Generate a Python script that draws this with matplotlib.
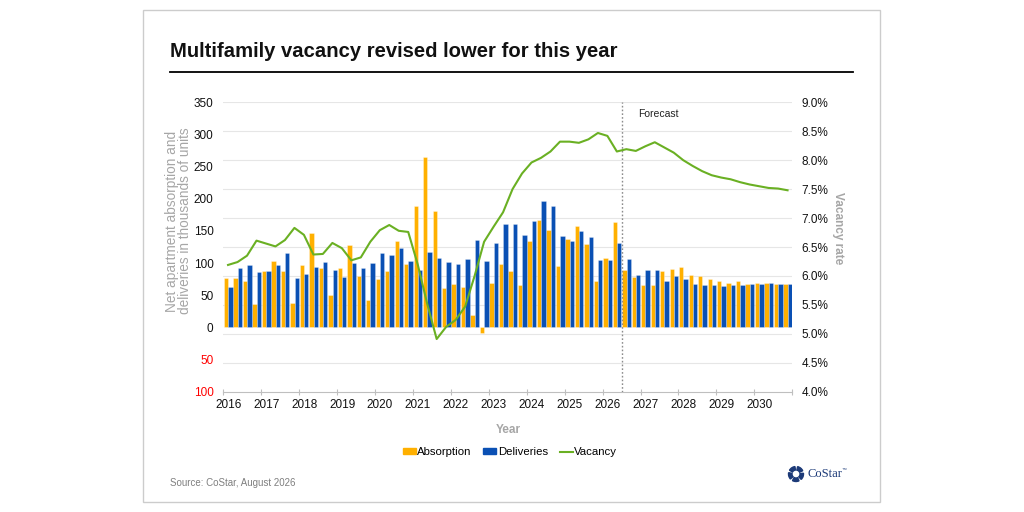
import matplotlib
matplotlib.use("Agg")
import matplotlib.pyplot as plt
import matplotlib.transforms as mtransforms
from matplotlib.patches import Rectangle, Wedge, Patch
from matplotlib.lines import Line2D
import numpy as np

plt.rcParams['font.family'] = ['Liberation Sans', 'DejaVu Sans']

# quarterly data, 2016Q1 .. 2030Q4 (thousands of units / %)
years = list(range(2016, 2031))
absorption = [
    76.6, 77, 71.5, 36.8,
    88, 103.6, 87.6, 37.3,
    97.4, 146.6, 92.2, 50.8,
    92.5, 128.4, 79.2, 42,
    75.6, 87.6, 134, 99,
    188, 265, 181, 62,
    66.8, 63.4, 19.5, -8,
    69, 99.2, 88, 65.8,
    134.6, 167, 151.7, 95.8,
    138, 158, 130, 72.5,
    108, 164, 89.6, 79,
    66.3, 66.3, 88, 91.1,
    93.8, 81.8, 79.2, 75.2,
    71.5, 68.4, 72.5, 67.9,
    69.4, 69, 67.3, 67.9,
]
deliveries = [
    63.2, 91.6, 96.3, 85.4,
    87.6, 97.4, 115, 76.6,
    83.4, 93.8, 102, 89.6,
    78, 100, 91.6, 100,
    115.5, 112.9, 124, 102.5,
    89.6, 117.5, 107.8, 102,
    98.4, 106, 135.5, 102.5,
    130.5, 161.5, 160, 143.5,
    165.7, 197, 189, 142.4,
    134.6, 149.7, 141.3, 104.7,
    105, 131.5, 106, 81.3,
    89.6, 89.6, 72.5, 80.3,
    75.2, 67.4, 66.3, 65.2,
    63.7, 66.3, 66.3, 67.9,
    67.9, 69, 67.9, 67.9,
]
vacancy = [
    6.19, 6.24, 6.35, 6.61,
    6.56, 6.51, 6.62, 6.83,
    6.71, 6.37, 6.38, 6.57,
    6.48, 6.27, 6.32, 6.59,
    6.79, 6.88, 6.78, 6.76,
    6.20, 5.52, 4.91, 5.12,
    5.24, 5.47, 6.00, 6.59,
    6.85, 7.10, 7.50, 7.77,
    7.96, 8.04, 8.15, 8.32,
    8.32, 8.30, 8.36, 8.47,
    8.42, 8.15, 8.19, 8.16,
    8.24, 8.31, 8.22, 8.13,
    8.00, 7.90, 7.81, 7.74,
    7.70, 7.67, 7.62, 7.58,
    7.55, 7.52, 7.51, 7.48,
]
forecast_start = 2026.5
left_ticks = [-100, -50, 0, 50, 100, 150, 200, 250, 300, 350]
right_ticks = [4.0, 4.5, 5.0, 5.5, 6.0, 6.5, 7.0, 7.5, 8.0, 8.5, 9.0]

ORANGE = '#FFB000'
BLUE = '#0A50B4'
GREEN = '#6AB023'
GREY = '#A6A6A6'

fig = plt.figure(figsize=(10.24, 5.12), dpi=100)

# frame around the whole graphic
fig.patches.append(Rectangle((143 / 1024, 1 - 502 / 512), 737 / 1024, 492 / 512,
                             transform=fig.transFigure, fill=False,
                             edgecolor='#CCCCCC', lw=1))

fig.text(170 / 1024, 1 - 57 / 512, 'Multifamily vacancy revised lower for this year',
         fontsize=14.6, fontweight='bold', va='baseline', color='#111111')
fig.lines.append(Line2D([170 / 1024, 853 / 1024], [1 - 71.7 / 512] * 2,
                        transform=fig.transFigure, color='black', lw=1.3))

ax = fig.add_axes([223.3 / 1024, 1 - 391.7 / 512, 569 / 1024, 289.4 / 512])
ax2 = ax.twinx()

n = len(absorption)
qstart = 2016 + np.arange(n) / 4
qw = 0.25
ax.bar(qstart + qw * 0.29, absorption, width=qw * 0.46, color=ORANGE,
       edgecolor=(1, 1, 1, 0.45), linewidth=0.5, zorder=2)
ax.bar(qstart + qw * 0.75, deliveries, width=qw * 0.46, color=BLUE,
       edgecolor=(1, 1, 1, 0.35), linewidth=0.5, zorder=2)

ax2.plot(qstart + qw / 2, vacancy, color=GREEN, lw=1.5, zorder=3)

ax.set_xlim(2016, 2031)
ax.set_ylim(left_ticks[0], left_ticks[-1])
ax2.set_ylim(right_ticks[0], right_ticks[-1])

# horizontal grid follows the vacancy axis
gtrans = mtransforms.blended_transform_factory(ax.transAxes, ax2.transData)
for p in right_ticks[1:]:
    ax.add_line(Line2D([0, 1], [p, p], transform=gtrans, color='#E6E6E6',
                       lw=0.8, zorder=0.5))

# forecast marker
ax.axvline(forecast_start, color='#8C8C8C', ls=(0, (1.2, 1.5)), lw=1, zorder=4)
ax.text(forecast_start + 0.43, 332, 'Forecast', fontsize=7.5, va='center',
        color='#222222')

for side in ['left', 'right', 'top']:
    ax.spines[side].set_visible(False)
    ax2.spines[side].set_visible(False)
ax2.spines['bottom'].set_visible(False)
ax.spines['bottom'].set_color('#BFBFBF')

ax.set_xticks(list(years) + [2031])
ax.set_xticklabels([str(y) for y in years] + [''])
ax.tick_params(axis='x', direction='inout', length=5, color='#BFBFBF', pad=3,
               labelsize=8.5, labelcolor='#111111')
offset = mtransforms.ScaledTranslation(5 / 100, 0, fig.dpi_scale_trans)
for lab in ax.get_xticklabels():
    lab.set_transform(lab.get_transform() + offset)

ax.set_yticks(left_ticks)
ax.set_yticklabels([str(abs(t)) for t in left_ticks])
for t, lab in zip(left_ticks, ax.get_yticklabels()):
    lab.set_color('#FF0000' if t < 0 else '#111111')
ax.tick_params(axis='y', length=0, pad=7, labelsize=8.5)

ax2.set_yticks(right_ticks)
ax2.set_yticklabels([f'{t:.1f}%' for t in right_ticks])
ax2.tick_params(axis='y', length=0, pad=6.5, labelsize=8.5, labelcolor='#111111')

# axis titles
fig.text(178.5 / 1024, 1 - 221 / 512,
         'Net apartment absorption and\ndeliveries in thousands of units',
         rotation=90, ha='center', va='center', fontsize=9.8,
         color=GREY, linespacing=0.85)
fig.text(838 / 1024, 1 - 228 / 512, 'Vacancy rate', rotation=270, ha='center',
         va='center', fontsize=8.5, fontweight='bold', color=GREY)
fig.text(508 / 1024, 1 - 430 / 512, 'Year', ha='center', va='center',
         fontsize=8.5, fontweight='bold', color=GREY)

handles = [Patch(color=ORANGE), Patch(color=BLUE), Line2D([], [], color=GREEN, lw=1.5)]
fig.legend(handles, ['Absorption', 'Deliveries', 'Vacancy'], loc='center',
           bbox_to_anchor=(510 / 1024, 1 - 452 / 512), ncol=3, frameon=False,
           fontsize=8.2, handlelength=1.15, handleheight=0.4, columnspacing=1.0,
           handletextpad=0.15)

fig.text(170 / 1024, 1 - 483 / 512, 'Source: CoStar, August 2026', fontsize=7,
         color='#7F7F7F', va='center')

# CoStar mark
NAVY = '#1C3A78'
for k in range(5):
    a0 = 90 + k * 72 + 8
    fig.patches.append(Wedge((7.96, 0.38), 0.075, a0, a0 + 52, width=0.035,
                             transform=fig.dpi_scale_trans, color=NAVY))
fig.text(808 / 1024, 1 - 474 / 512, 'CoStar', fontsize=9, family='Liberation Serif',
         color=NAVY, va='center')
fig.text(842 / 1024, 1 - 469 / 512, '\u2122', fontsize=3.5, color=NAVY, va='center')

fig.savefig('out.png', dpi=100)
